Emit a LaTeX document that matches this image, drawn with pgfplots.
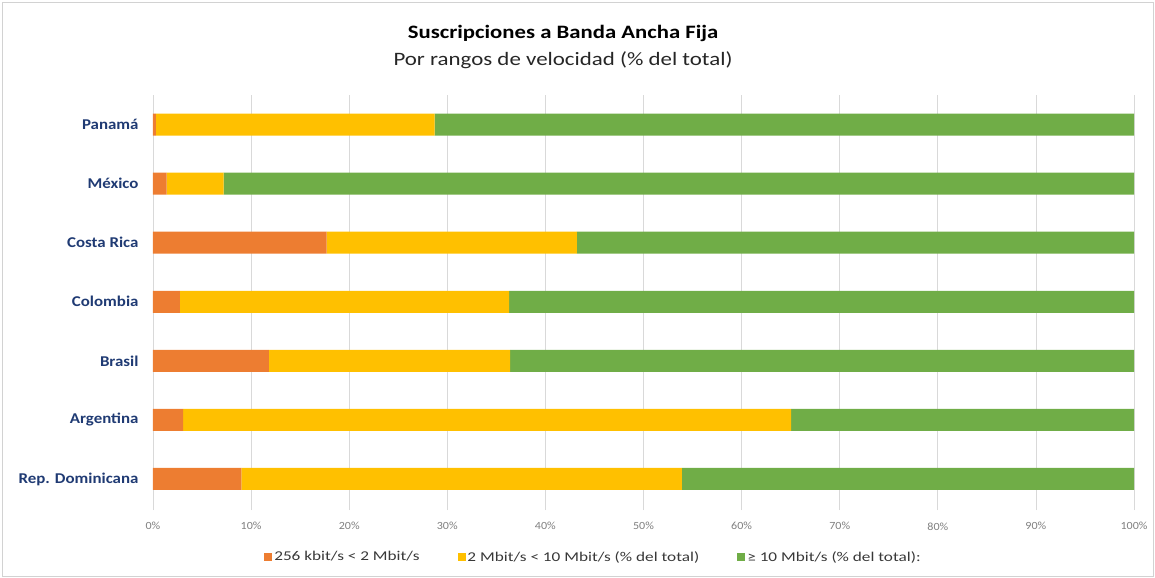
\documentclass[border=0pt]{standalone}
\usepackage{graphicx}
\usepackage{pgfplots}
\pgfplotsset{compat=1.18}
\usepackage{fontspec}
\setmainfont{Carlito}
\definecolor{cOr}{HTML}{ED7D31}
\definecolor{cYe}{HTML}{FFC000}
\definecolor{cGr}{HTML}{70AD47}
\definecolor{cCat}{HTML}{1F3A73}
\definecolor{cTick}{HTML}{7F7F7F}
\definecolor{cGrid}{HTML}{D9D9D9}
\newcommand{\sx}[2]{\scalebox{#1}[1]{#2}}
\begin{document}
\begin{tikzpicture}
\begin{axis}[name=ax,
  xbar stacked,
  scale only axis,
  clip=false,
  width=981bp, height=415bp,
  xmin=0, xmax=100,
  ymin=-0.525, ymax=6.5,
  bar width=22bp,
  xtick={0,10,...,100},
  xticklabel={\sx{1.1}{\pgfmathprintnumber{\tick}\%}},
  /pgf/number format/assume math mode=true,
  ytick={0,1,2,3,4,5,6},
  yticklabels={\sx{1.13}{Rep. Dominicana},\sx{1.13}{Argentina},\sx{1.13}{Brasil},\sx{1.13}{Colombia},\sx{1.13}{Costa Rica},\sx{1.13}{México},\sx{1.13}{Panamá}},
  yticklabel style={font=\fontsize{15}{17}\selectfont\bfseries, text=cCat, xshift=-11bp},
  xticklabel style={font=\fontsize{11}{12}\selectfont, text=cTick, yshift=-9bp},
  xmajorgrids, major grid style={cGrid, line width=0.8pt},
  axis x line*=bottom, axis y line*=left,
  x axis line style={draw=none},
  y axis line style={cGrid, line width=0.8pt},
  tick style={draw=none},
  xtick pos=bottom,
  axis line style={-},
  legend style={at={(0.449,-0.113)}, anchor=center, draw=none, fill=none,
    legend columns=3, font=\fontsize{13.5}{15}\selectfont, text=black!78,
    /tikz/every even column/.append style={column sep=36bp},
    /tikz/every odd column/.append style={inner xsep=1bp}},
  legend image code/.code={\fill[#1] (0bp,-4bp) rectangle (8bp,4bp);},
]
\addplot[fill=cOr, draw=none] coordinates {(9.0,0) (3.06,1) (11.8,2) (2.75,3) (17.7,4) (1.4,5) (0.3,6)};
\addplot[fill=cYe, draw=none] coordinates {(44.9,0) (62.0,1) (24.6,2) (33.55,3) (25.5,4) (5.8,5) (28.4,6)};
\addplot[fill=cGr, draw=none] coordinates {(46.1,0) (34.94,1) (63.6,2) (63.7,3) (56.8,4) (92.8,5) (71.3,6)};
\legend{\sx{1.28}{256 kbit/s < 2 Mbit/s}, \sx{1.28}{2 Mbit/s < 10 Mbit/s (\% del total)}, \sx{1.28}{≥ 10 Mbit/s (\% del total):}}
\node[font=\fontsize{19}{21}\selectfont\bfseries, anchor=center] at (rel axis cs:0.418,1.149) {\sx{1.2}{Suscripciones a Banda Ancha Fija}};
\node[font=\fontsize{19}{21}\selectfont, anchor=center, text=black!85] at (rel axis cs:0.418,1.084) {\sx{1.21}{Por rangos de velocidad (\% del total)}};
\end{axis}
\path[use as bounding box] (ax.south west) ++(-153bp,-68bp) rectangle ++(1155bp,578bp);
\draw[gray!35, line width=0.8pt] (ax.south west) ++(-151bp,-66bp) rectangle ++(1151bp,574bp);
\end{tikzpicture}
\end{document}
